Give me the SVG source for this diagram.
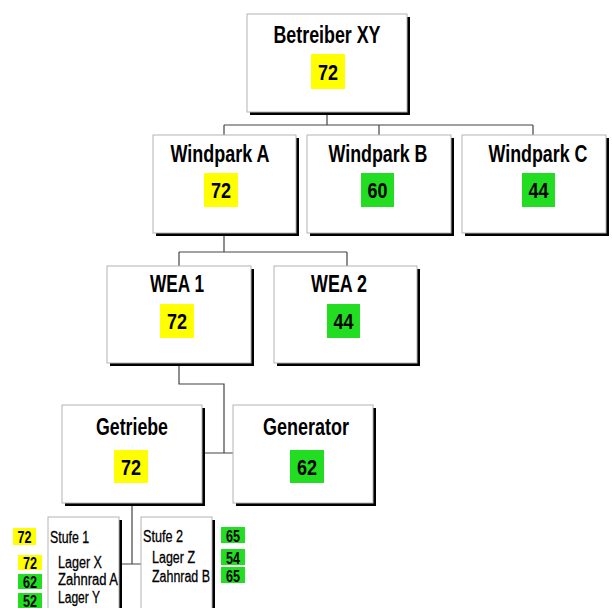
<svg xmlns="http://www.w3.org/2000/svg" width="612" height="608" viewBox="0 0 612 608">
<style>
.sh{fill:#000}
.bx{fill:#fff;stroke:#b4b4b4;stroke-width:1}
.t{font-family:"Liberation Sans Narrow","Liberation Sans",Arial,sans-serif;font-weight:bold;font-size:23px;fill:#000;text-anchor:middle}
.n{font-family:"Liberation Sans Narrow","Liberation Sans",Arial,sans-serif;font-weight:bold;font-size:22px;fill:#000;text-anchor:middle}
.s{font-family:"Liberation Sans Narrow","Liberation Sans",Arial,sans-serif;font-size:16px;fill:#000;stroke:#000;stroke-width:0.3}
.sn{font-family:"Liberation Sans Narrow","Liberation Sans",Arial,sans-serif;font-weight:bold;font-size:16px;fill:#000;text-anchor:middle}
.y{fill:#ffff00}
.g{fill:#22dd22}
.c{fill:none;stroke:#444;stroke-width:1.2}
</style>
<rect width="612" height="608" fill="#fff"/>
<g id="connectors">
<path class="c" d="M327,112V125M224,125H533M224,125V135M379,125V135M533,125V135"/>
<path class="c" d="M224,233V252M179,252H347M179,252V266M347,252V266"/>
<path class="c" d="M179,363V384H224V453M202,453H233"/>
<path class="c" d="M132,503V564M122,564H141"/>
</g>
<g id="betreiber">
<rect class="sh" x="250" y="17" width="160" height="98"/>
<rect class="bx" x="247" y="14" width="160" height="98"/>
<text class="t" x="327" y="43" textLength="107" lengthAdjust="spacingAndGlyphs">Betreiber XY</text>
<rect class="y" x="311" y="54" width="34" height="35"/>
<text class="n" x="328" y="79.5" textLength="20" lengthAdjust="spacingAndGlyphs">72</text>
</g>
<g id="windparkA">
<rect class="sh" x="156" y="138" width="143" height="98"/>
<rect class="bx" x="153" y="135" width="143" height="98"/>
<text class="t" x="220" y="162" textLength="99" lengthAdjust="spacingAndGlyphs">Windpark A</text>
<rect class="y" x="204" y="173" width="34" height="34"/>
<text class="n" x="221" y="198" textLength="20" lengthAdjust="spacingAndGlyphs">72</text>
</g>
<g id="windparkB">
<rect class="sh" x="310" y="138" width="144" height="98"/>
<rect class="bx" x="307" y="135" width="144" height="98"/>
<text class="t" x="378" y="162" textLength="99" lengthAdjust="spacingAndGlyphs">Windpark B</text>
<rect class="g" x="361" y="173" width="33" height="34"/>
<text class="n" x="377.5" y="198" textLength="20" lengthAdjust="spacingAndGlyphs">60</text>
</g>
<g id="windparkC">
<rect class="sh" x="465" y="138" width="144" height="98"/>
<rect class="bx" x="462" y="135" width="144" height="98"/>
<text class="t" x="538" y="162" textLength="99" lengthAdjust="spacingAndGlyphs">Windpark C</text>
<rect class="g" x="522" y="173" width="33" height="34"/>
<text class="n" x="538.5" y="198" textLength="20" lengthAdjust="spacingAndGlyphs">44</text>
</g>
<g id="wea1">
<rect class="sh" x="110" y="269" width="144" height="97"/>
<rect class="bx" x="107" y="266" width="144" height="97"/>
<text class="t" x="177" y="292" textLength="54" lengthAdjust="spacingAndGlyphs">WEA 1</text>
<rect class="y" x="160" y="304" width="34" height="34"/>
<text class="n" x="177" y="329" textLength="20" lengthAdjust="spacingAndGlyphs">72</text>
</g>
<g id="wea2">
<rect class="sh" x="277" y="269" width="143" height="97"/>
<rect class="bx" x="274" y="266" width="143" height="97"/>
<text class="t" x="339" y="292" textLength="56" lengthAdjust="spacingAndGlyphs">WEA 2</text>
<rect class="g" x="327" y="304" width="33" height="34"/>
<text class="n" x="343.5" y="329" textLength="20" lengthAdjust="spacingAndGlyphs">44</text>
</g>
<g id="getriebe">
<rect class="sh" x="65" y="408" width="140" height="98"/>
<rect class="bx" x="62" y="405" width="140" height="98"/>
<text class="t" x="132" y="435" textLength="72" lengthAdjust="spacingAndGlyphs">Getriebe</text>
<rect class="y" x="114" y="450" width="34" height="33"/>
<text class="n" x="131" y="474.5" textLength="20" lengthAdjust="spacingAndGlyphs">72</text>
</g>
<g id="generator">
<rect class="sh" x="236" y="408" width="140" height="98"/>
<rect class="bx" x="233" y="405" width="140" height="98"/>
<text class="t" x="306" y="435" textLength="86" lengthAdjust="spacingAndGlyphs">Generator</text>
<rect class="g" x="290" y="450" width="34" height="33"/>
<text class="n" x="307" y="474.5" textLength="20" lengthAdjust="spacingAndGlyphs">62</text>
</g>
<g id="stufe1">
<rect class="sh" x="51" y="520" width="71" height="100"/>
<rect class="bx" x="48" y="517" width="71" height="100"/>
<text class="s" x="50" y="543" textLength="39" lengthAdjust="spacingAndGlyphs">Stufe 1</text>
<text class="s" x="58" y="568" textLength="44" lengthAdjust="spacingAndGlyphs">Lager X</text>
<text class="s" x="58" y="585" textLength="60" lengthAdjust="spacingAndGlyphs">Zahnrad A</text>
<text class="s" x="58" y="603" textLength="42" lengthAdjust="spacingAndGlyphs">Lager Y</text>
<rect class="y" x="13" y="528" width="23" height="17"/>
<text class="sn" x="24.5" y="542.5" textLength="14" lengthAdjust="spacingAndGlyphs">72</text>
<rect class="y" x="18" y="555" width="24" height="15"/>
<text class="sn" x="30" y="568.5" textLength="14" lengthAdjust="spacingAndGlyphs">72</text>
<rect class="g" x="18" y="574" width="24" height="15"/>
<text class="sn" x="30" y="587.5" textLength="14" lengthAdjust="spacingAndGlyphs">62</text>
<rect class="g" x="18" y="593" width="24" height="15"/>
<text class="sn" x="30" y="606.5" textLength="14" lengthAdjust="spacingAndGlyphs">52</text>
</g>
<g id="stufe2">
<rect class="sh" x="144" y="520" width="71" height="100"/>
<rect class="bx" x="141" y="517" width="71" height="100"/>
<text class="s" x="143" y="542" textLength="40" lengthAdjust="spacingAndGlyphs">Stufe 2</text>
<text class="s" x="152" y="563" textLength="43" lengthAdjust="spacingAndGlyphs">Lager Z</text>
<text class="s" x="152" y="582" textLength="58" lengthAdjust="spacingAndGlyphs">Zahnrad B</text>
<rect class="g" x="221" y="527" width="24" height="16"/>
<text class="sn" x="233" y="541.5" textLength="14" lengthAdjust="spacingAndGlyphs">65</text>
<rect class="g" x="221" y="549" width="24" height="16"/>
<text class="sn" x="233" y="563.5" textLength="14" lengthAdjust="spacingAndGlyphs">54</text>
<rect class="g" x="221" y="567" width="24" height="16"/>
<text class="sn" x="233" y="581.5" textLength="14" lengthAdjust="spacingAndGlyphs">65</text>
</g>
</svg>
